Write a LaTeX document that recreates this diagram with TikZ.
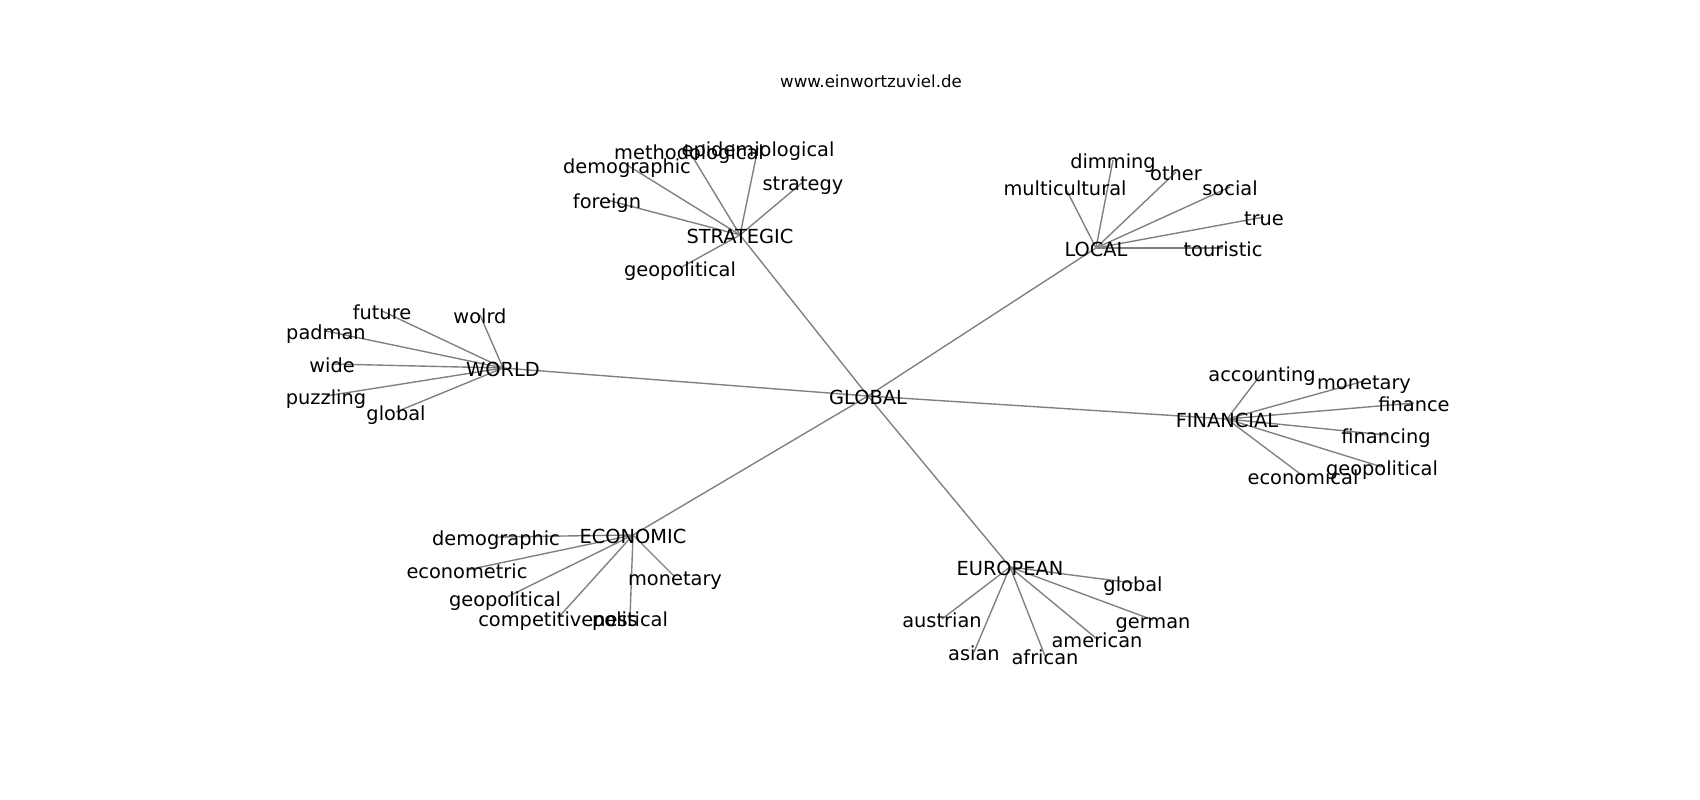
\documentclass[tikz,border=0pt]{standalone}
\usepackage{fontspec}
\setmainfont{DejaVu Sans}
\usetikzlibrary{backgrounds}

\begin{document}
\begin{tikzpicture}[x=0.01in, y=-0.01in,
  word/.style={inner sep=0pt, font=\fontsize{14}{17}\selectfont, text height=14pt, text depth=1.6pt},
  link/.style={draw=black!50, line width=1pt}]
  \useasboundingbox (0,0) rectangle (1700,800);
  \node [font=\fontsize{12}{14}\selectfont, inner sep=0pt, anchor=base] (title) at (871,88) {www.einwortzuviel.de};
  % hubs
  \node [word] (gl) at (868,396) {GLOBAL};
  \node [word] (st) at (740,235) {STRATEGIC};
  \node [word] (lo) at (1096,248) {LOCAL};
  \node [word] (wo) at (503,368) {WORLD};
  \node [word] (fi) at (1227,419) {FINANCIAL};
  \node [word] (ec) at (633,535) {ECONOMIC};
  \node [word] (eu) at (1010,567) {EUROPEAN};
  % strategic
  \node [word] (st1) at (689,151) {methodological};
  \node [word] (st2) at (758,148) {epidemiological};
  \node [word] (st3) at (627,165) {demographic};
  \node [word] (st4) at (803,182) {strategy};
  \node [word] (st5) at (607,200) {foreign};
  \node [word] (st6) at (680,268) {geopolitical};
  % local
  \node [word] (lo1) at (1113,160) {dimming};
  \node [word] (lo2) at (1176,172) {other};
  \node [word] (lo3) at (1065,187) {multicultural};
  \node [word] (lo4) at (1230,187) {social};
  \node [word] (lo5) at (1264,217) {true};
  \node [word] (lo6) at (1223,248) {touristic};
  % world
  \node [word] (wo1) at (382,311) {future};
  \node [word] (wo2) at (480,315) {wolrd};
  \node [word] (wo3) at (326,331) {padman};
  \node [word] (wo4) at (332,364) {wide};
  \node [word] (wo5) at (326,396) {puzzling};
  \node [word] (wo6) at (396,412) {global};
  % financial
  \node [word] (fi1) at (1262,373) {accounting};
  \node [word] (fi2) at (1364,381) {monetary};
  \node [word] (fi3) at (1414,403) {finance};
  \node [word] (fi4) at (1386,435) {financing};
  \node [word] (fi5) at (1382,467) {geopolitical};
  \node [word] (fi6) at (1303,476) {economical};
  % economic
  \node [word] (ec1) at (496,537) {demographic};
  \node [word] (ec2) at (467,570) {econometric};
  \node [word] (ec3) at (505,598) {geopolitical};
  \node [word] (ec4) at (675,577) {monetary};
  \node [word] (ec5) at (558,618) {competitiveness};
  \node [word] (ec6) at (630,618) {political};
  % european
  \node [word] (eu1) at (1133,583) {global};
  \node [word] (eu2) at (942,619) {austrian};
  \node [word] (eu3) at (1153,620) {german};
  \node [word] (eu4) at (1097,639) {american};
  \node [word] (eu5) at (974,652) {asian};
  \node [word] (eu6) at (1045,656) {african};
  \begin{scope}[on background layer]
  \path [link]
  (gl.center) edge (st.center) edge (lo.center) edge (wo.center)
              edge (fi.center) edge (ec.center) edge (eu.center)
  (st.center) edge (st1.center) edge (st2.center) edge (st3.center)
              edge (st4.center) edge (st5.center) edge (st6.center)
  (lo.center) edge (lo1.center) edge (lo2.center) edge (lo3.center)
              edge (lo4.center) edge (lo5.center) edge (lo6.center)
  (wo.center) edge (wo1.center) edge (wo2.center) edge (wo3.center)
              edge (wo4.center) edge (wo5.center) edge (wo6.center)
  (fi.center) edge (fi1.center) edge (fi2.center) edge (fi3.center)
              edge (fi4.center) edge (fi5.center) edge (fi6.center)
  (ec.center) edge (ec1.center) edge (ec2.center) edge (ec3.center)
              edge (ec4.center) edge (ec5.center) edge (ec6.center)
  (eu.center) edge (eu1.center) edge (eu2.center) edge (eu3.center)
              edge (eu4.center) edge (eu5.center) edge (eu6.center)
  ;
  \end{scope}
\end{tikzpicture}
\end{document}
